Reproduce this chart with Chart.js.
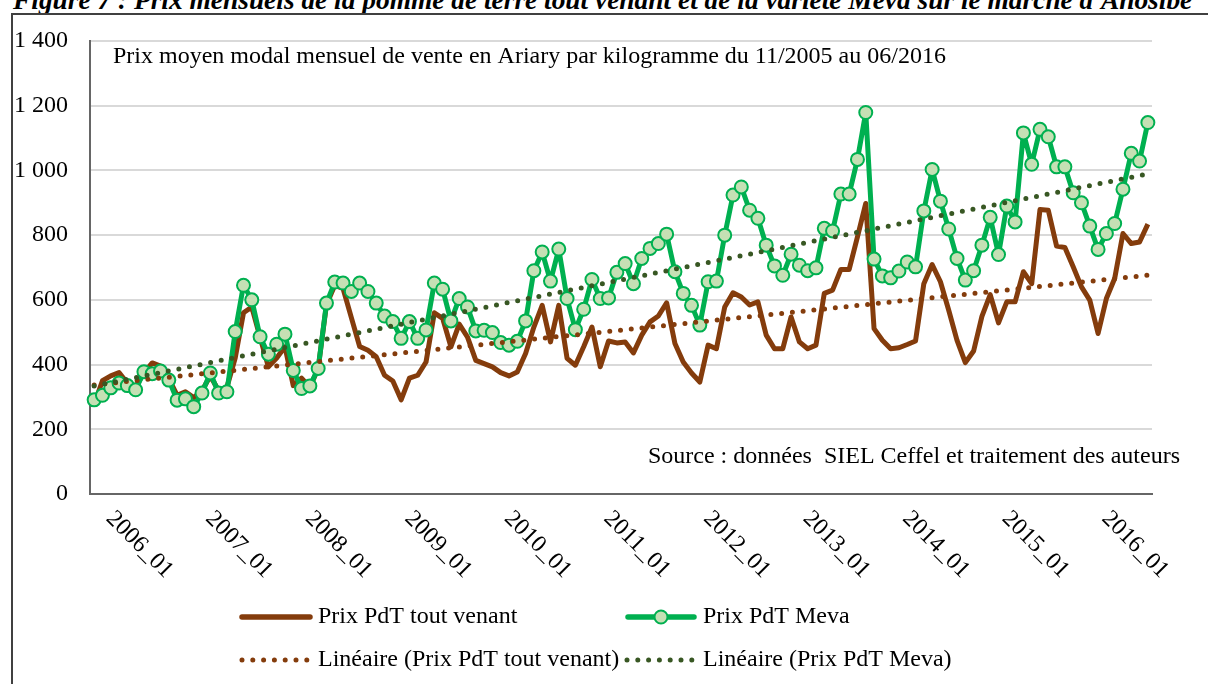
<!DOCTYPE html>
<html lang="fr">
<head>
<meta charset="UTF-8" />
<title>Figure 7 - Prix mensuels de la pomme de terre</title>
<script src="https://cdn.jsdelivr.net/npm/chart.js"></script>
<style>
  html, body { margin: 0; padding: 0; background: #fff; overflow: hidden; }
  #wrap { position: relative; width: 1208px; height: 684px; overflow: hidden; }
  #caption { position: absolute; left: 13px; top: -13px; white-space: nowrap;
    font: italic bold 27.4px "Liberation Serif", "Times New Roman", serif; line-height: 27.4px; color: #000; }
  #frame { position: absolute; left: 11px; top: 13px; width: 1400px; height: 900px; border: 2px solid #404040; }
  canvas { position: absolute; left: 0; top: 0; }
</style>
</head>
<body>
<div id="wrap">
  <div id="caption">Figure 7 : Prix mensuels de la pomme de terre tout venant et de la variété Meva sur le marché d'Anosibe</div>
  <div id="frame"></div>
  <canvas id="chart" width="1208" height="684"></canvas>
</div>
<script>
// months from 2005_11 to 2016_06
const months = [];
for (let y = 2005, m = 11; !(y === 2016 && m === 7); ) {
  months.push(y + "_" + String(m).padStart(2, "0"));
  if (++m > 12) { m = 1; y++; }
}
const tickLabels = ["2006_01", "2007_01", "2008_01", "2009_01", "2010_01", "2011_01",
  "2012_01", "2013_01", "2014_01", "2015_01", "2016_01"];

const toutVenant = [
  278, 350,
  365, 375, 343, 330, 375, 405, 395, 357, 305, 316, 298, 320,
  365, 320, 330, 420, 560, 578, 484, 393, 420, 455, 335, 358,
  330, 388, 585, 645, 635, 545, 456, 444, 424, 367, 349, 291,
  358, 367, 408, 560, 543, 455, 525, 485, 413, 403, 393, 375,
  365, 377, 434, 516, 583, 470, 583, 419, 398, 455, 516, 393,
  473, 467, 470, 436, 491, 532, 550, 591, 465, 408, 374, 346,
  460, 449, 578, 622, 609, 584, 594, 491, 449, 449, 547, 470,
  449, 460, 620, 630, 694, 694, 795, 898, 511, 475, 449, 452,
  462, 473, 650, 709, 656, 568, 475, 406, 442, 549, 616, 529,
  594, 594, 687, 650, 879, 877, 766, 762, 702, 640, 599, 496,
  604, 666, 805, 774, 779, 834
];
const meva = [
  291, 305,
  328, 343, 335, 322, 378, 372, 380, 352, 290, 294, 270, 312,
  374, 312, 316, 502, 645, 600, 486, 432, 463, 494, 382, 326,
  334, 388, 590, 655, 652, 626, 652, 626, 590, 550, 533, 481,
  533, 481, 507, 652, 633, 535, 604, 578, 504, 506, 499, 468,
  460, 472, 535, 690, 748, 658, 757, 604, 508, 571, 663, 604,
  606, 685, 712, 650, 728, 759, 774, 803, 687, 620, 583, 522,
  656, 658, 800, 924, 949, 877, 852, 769, 705, 676, 741, 707,
  690, 699, 821, 813, 927, 927, 1034, 1179, 726, 674, 668, 689,
  717, 702, 875, 1003, 905, 819, 728, 661, 690, 769, 855, 740,
  890, 841, 1116, 1019, 1127, 1104, 1011, 1011, 931, 900, 828, 756,
  805, 836, 942, 1053, 1029, 1148
];
// trend lines (Linéaire): values at first and last month
const trendToutVenant = [337, 676];
const trendMeva = [334, 989];

const FONT = '24px "Liberation Serif", "Times New Roman", serif';
const BROWN = "#843c0c", GREEN = "#00b050", LIGHT = "#c5e0b4", DKGREEN = "#385723";
const chartTitle = "Prix moyen modal mensuel de vente en Ariary par kilogramme du 11/2005 au 06/2016";
const sourceText = "Source : données  SIEL Ceffel et traitement des auteurs";

function endsOnly(pair) {
  return months.map((_, i) => i === 0 ? pair[0] : i === months.length - 1 ? pair[1] : null);
}

function dotted(ctx, x0, x1, y, color) {
  ctx.save();
  ctx.strokeStyle = color; ctx.lineWidth = 5; ctx.lineCap = "round";
  ctx.setLineDash([0, 10.8]);
  ctx.beginPath(); ctx.moveTo(x0, y); ctx.lineTo(x1, y); ctx.stroke();
  ctx.restore();
}

const overlay = {
  id: "overlay",
  afterDraw(chart) {
    const ctx = chart.ctx, xs = chart.scales.x, area = chart.chartArea;
    ctx.save();
    ctx.fillStyle = "#000";
    ctx.font = FONT;
    ctx.textBaseline = "middle";
    ctx.textAlign = "left";
    // slanted month labels
    tickLabels.forEach(t => {
      const px = xs.getPixelForValue(months.indexOf(t));
      ctx.save();
      ctx.translate(px - 1, area.bottom + 21);
      ctx.rotate(Math.PI / 4);
      ctx.fillText(t, 0, 0);
      ctx.restore();
    });
    ctx.fillText(chartTitle, 113, 57);
    ctx.textAlign = "right";
    ctx.fillText(sourceText, 1180, 457);

    // legend, two rows
    ctx.textAlign = "left";
    ctx.lineCap = "round";
    ctx.strokeStyle = BROWN; ctx.lineWidth = 5.5;
    ctx.beginPath(); ctx.moveTo(242, 617); ctx.lineTo(310, 617); ctx.stroke();
    ctx.fillText("Prix PdT tout venant", 318, 617);
    ctx.strokeStyle = GREEN;
    ctx.beginPath(); ctx.moveTo(628, 617); ctx.lineTo(694, 617); ctx.stroke();
    ctx.beginPath(); ctx.arc(661, 617, 6.5, 0, Math.PI * 2);
    ctx.fillStyle = LIGHT; ctx.fill();
    ctx.lineWidth = 2; ctx.stroke();
    ctx.fillStyle = "#000";
    ctx.fillText("Prix PdT Meva", 703, 617);
    dotted(ctx, 242, 312, 660, BROWN);
    ctx.fillText("Linéaire (Prix PdT tout venant)", 318, 660);
    dotted(ctx, 627, 697, 660, DKGREEN);
    ctx.fillText("Linéaire (Prix PdT Meva)", 703, 660);
    ctx.restore();
  }
};

new Chart(document.getElementById("chart"), {
  type: "line",
  data: {
    labels: months,
    datasets: [
      { label: "Prix PdT tout venant", data: toutVenant, borderColor: BROWN, borderWidth: 5,
        pointRadius: 0, borderJoinStyle: "round", order: 3 },
      { label: "Prix PdT Meva", data: meva, borderColor: GREEN, borderWidth: 5,
        pointRadius: 6.5, pointBorderWidth: 2, pointBackgroundColor: LIGHT, pointBorderColor: GREEN,
        borderJoinStyle: "round", order: 2 },
      { label: "Linéaire (Prix PdT tout venant)", data: endsOnly(trendToutVenant), spanGaps: true,
        borderColor: BROWN, borderWidth: 5, borderDash: [0, 10.8], borderCapStyle: "round",
        pointRadius: 0, order: 1 },
      { label: "Linéaire (Prix PdT Meva)", data: endsOnly(trendMeva), spanGaps: true,
        borderColor: DKGREEN, borderWidth: 5, borderDash: [0, 10.8], borderCapStyle: "round",
        pointRadius: 0, order: 0 }
    ]
  },
  options: {
    responsive: false,
    animation: false,
    layout: { padding: { left: 0, top: 41, right: 56, bottom: 0 } },
    plugins: { legend: { display: false }, tooltip: { enabled: false } },
    scales: {
      x: {
        offset: true,
        grid: { display: false },
        border: { display: true, color: "#666", width: 2 },
        ticks: { display: false },
        afterFit(s) { s.height = 190; }
      },
      y: {
        min: 0, max: 1400,
        ticks: {
          stepSize: 200, padding: 22, color: "#000",
          font: { family: '"Liberation Serif", "Times New Roman", serif', size: 24 },
          callback: v => String(v).replace(/\B(?=(\d{3})+(?!\d))/g, " ")
        },
        grid: { color: "#d9d9d9", lineWidth: 2, drawTicks: false },
        border: { display: true, color: "#666", width: 2 },
        afterFit(s) { s.width = 90; }
      }
    }
  },
  plugins: [overlay]
});
</script>
</body>
</html>
